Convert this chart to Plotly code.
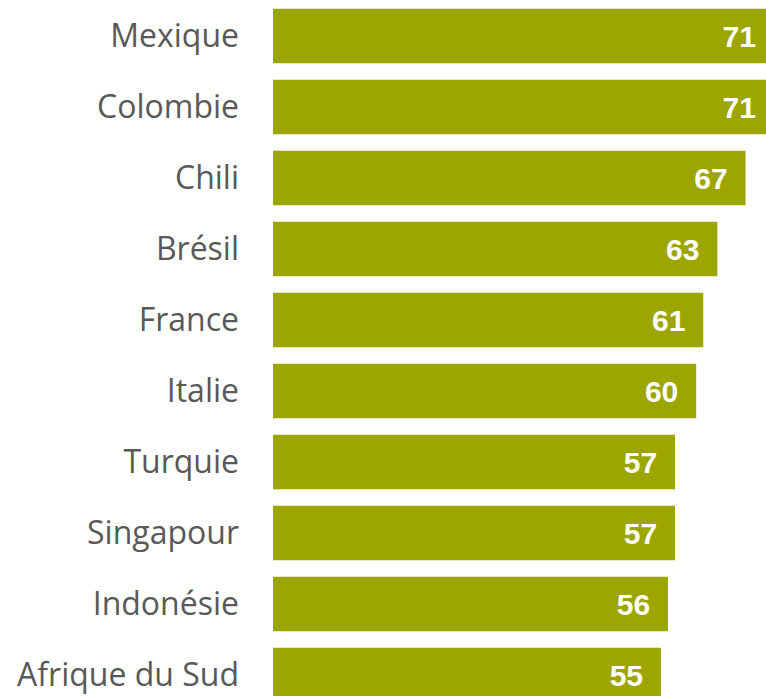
import plotly.graph_objects as go

countries = ["Mexique", "Colombie", "Chili", "Brésil", "France", "Italie",
             "Turquie", "Singapour", "Indonésie", "Afrique du Sud"]
values = [71, 71, 67, 63, 61, 60, 57, 57, 56, 55]

fig = go.Figure()
fig.add_trace(go.Bar(
    x=values,
    y=countries,
    orientation="h",
    marker=dict(color="#9DA500", line=dict(width=0)),
    hoverinfo="skip",
))
fig.add_trace(go.Scatter(
    x=values,
    y=countries,
    yaxis="y2",
    mode="markers+text",
    text=[str(v) for v in values],
    textposition="middle left",
    marker=dict(size=27, opacity=0, color="#9DA500"),
    textfont=dict(family="Liberation Sans, Arial, sans-serif", size=30,
                  color="white", weight="bold"),
    cliponaxis=False,
    hoverinfo="skip",
))

fig.update_layout(
    width=790, height=696,
    margin=dict(l=273, r=0, t=0, b=0),
    plot_bgcolor="white", paper_bgcolor="white",
    bargap=0.23,
    showlegend=False,
    xaxis=dict(range=[0, 73.3], visible=False, showgrid=False, zeroline=False),
    yaxis=dict(
        type="category",
        range=[9.296, -0.507],
        showgrid=False, zeroline=False, showline=False,
        ticks="", ticklabelstandoff=33,
        tickfont=dict(family="Open Sans, sans-serif", size=32, color="#595959"),
    ),
    yaxis2=dict(
        type="category",
        overlaying="y",
        range=[9.246, -0.557],
        visible=False, showgrid=False, zeroline=False,
    ),
)

fig.write_html(
    "out.html",
    config={"displayModeBar": False},
    post_script="document.documentElement.style.overflow='hidden';document.body.style.margin='0';document.body.style.overflow='hidden';",
)
